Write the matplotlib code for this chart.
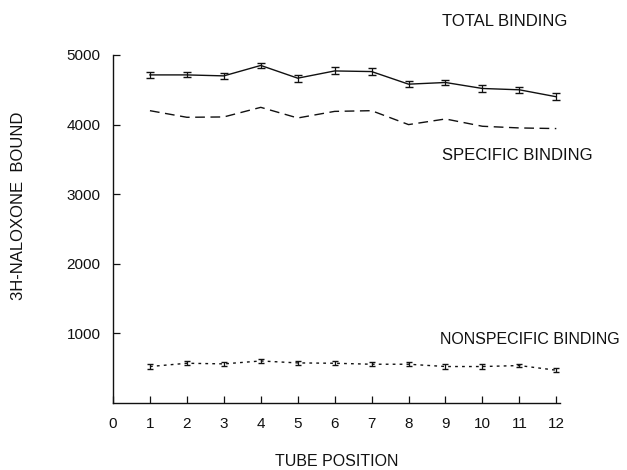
import numpy as np
import matplotlib
matplotlib.use('Agg')
import matplotlib.pyplot as plt

plt.rcParams['font.family'] = ['Liberation Sans', 'DejaVu Sans']

# data
tube = [1, 2, 3, 4, 5, 6, 7, 8, 9, 10, 11, 12]
total = [4714, 4714, 4700, 4850, 4667, 4771, 4762, 4581, 4605, 4519, 4500, 4400]
total_err = [45, 35, 40, 40, 50, 50, 50, 45, 40, 45, 40, 50]
specific = [4200, 4105, 4110, 4248, 4095, 4190, 4200, 4000, 4081, 3976, 3952, 3943]
nonspecific = [524, 571, 562, 604, 576, 571, 557, 557, 524, 524, 538, 471]
nonspecific_err = [30, 30, 30, 30, 30, 30, 25, 25, 30, 30, 25, 30]

W, H = 627, 470
fig = plt.figure(figsize=(W / 100, H / 100), dpi=100)
ax = fig.add_axes([113 / W, 1 - 403 / H, (560 - 113) / W, (403 - 55) / H])

ink = '#111111'
ax.errorbar(tube, total, yerr=total_err, color=ink, lw=1.0, capsize=3, elinewidth=0.9)
ax.plot(tube, specific, color=ink, lw=1.0, dashes=(7, 4))
ax.errorbar(tube, nonspecific, yerr=nonspecific_err, color=ink, lw=1.0, capsize=2.5,
            elinewidth=0.9, linestyle=(0, (2, 3)))

ax.set_xlim(0, 12.1)
ax.set_ylim(0, 5000)
ax.set_xticks(range(0, 13))
ax.set_yticks([1000, 2000, 3000, 4000, 5000])
ax.tick_params(direction='in', length=5, width=0.9, labelsize=11, colors=ink)
ax.tick_params(axis='x', pad=10)
ax.tick_params(axis='y', pad=9)
for s in ['top', 'right']:
    ax.spines[s].set_visible(False)
for s in ['left', 'bottom']:
    ax.spines[s].set_linewidth(1.0)
    ax.spines[s].set_color(ink)

# labels placed in figure pixels (from top-left)
def px(x, y):
    return x / W, 1 - y / H

fig.text(*px(442, 21), 'TOTAL BINDING', ha='left', va='center', fontsize=12, color=ink)
fig.text(*px(442, 156), 'SPECIFIC BINDING', ha='left', va='center', fontsize=12, color=ink)
fig.text(*px(440, 340), 'NONSPECIFIC BINDING', ha='left', va='center', fontsize=11.5, color=ink)
fig.text(*px(337, 462), 'TUBE POSITION', ha='center', va='center', fontsize=11.5, color=ink)
fig.text(*px(19, 206), '3H-NALOXONE  BOUND', ha='center', va='center', rotation=90,
         fontsize=12, color=ink)

fig.savefig('out.png', dpi=100)
